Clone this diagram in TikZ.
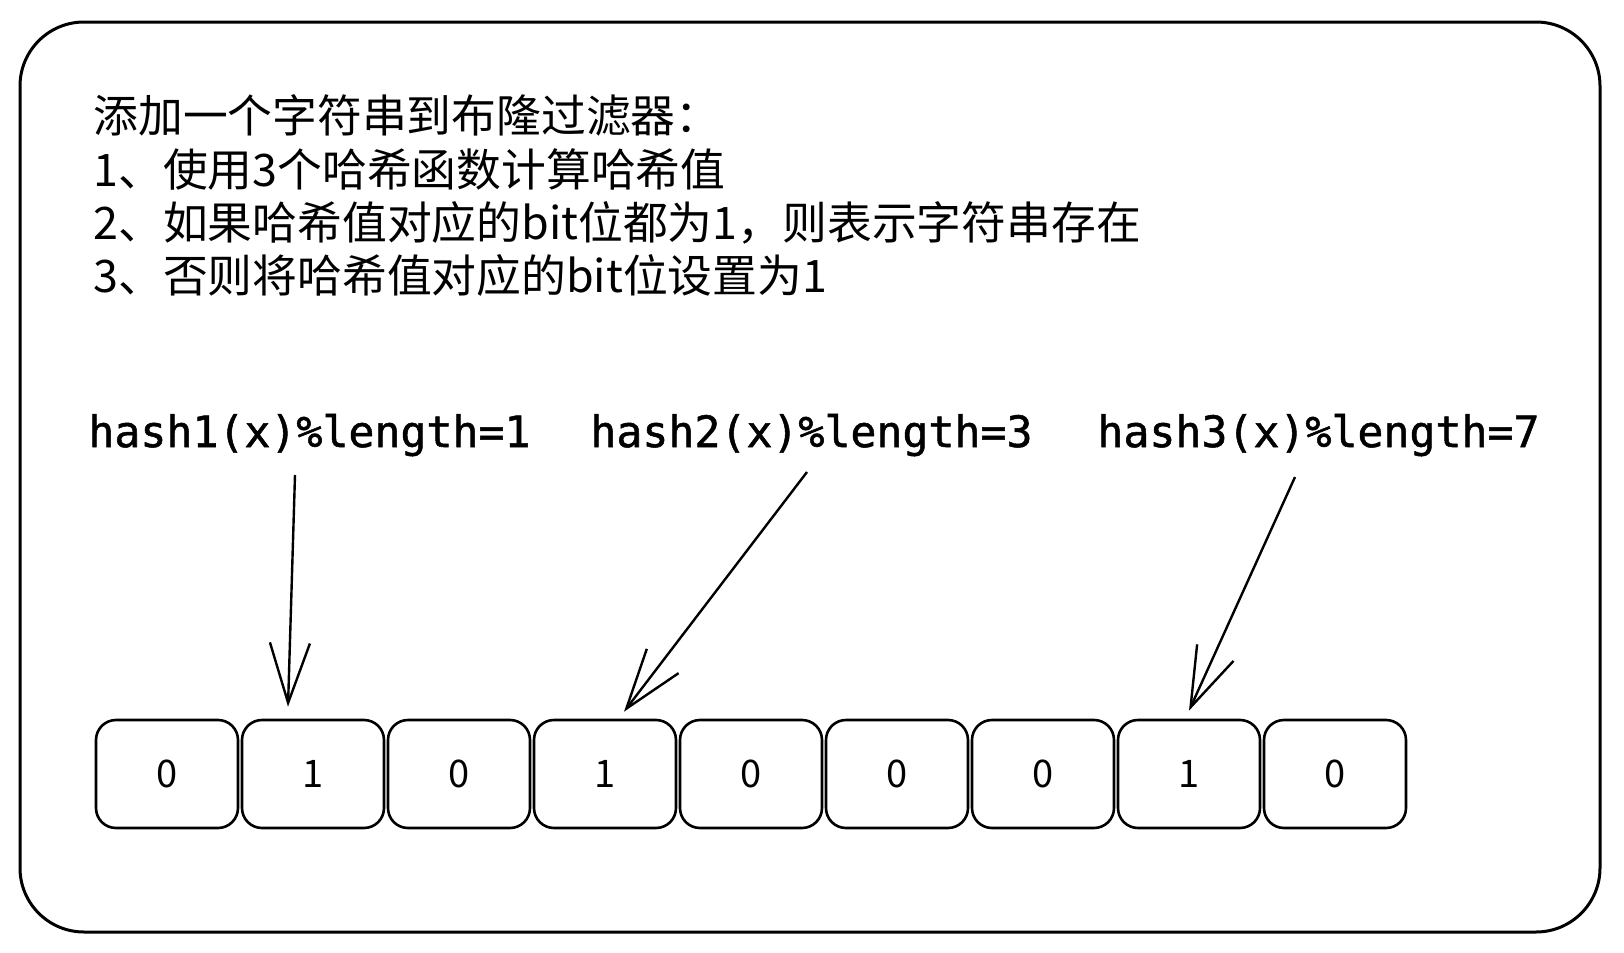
\documentclass[tikz,border=0pt]{standalone}
\usepackage{fontspec}
\usepackage{tikz}
\usetikzlibrary{arrows.meta}
\setmainfont{Noto Sans CJK SC}
\newfontfamily\hashfont[FakeBold=1.2]{DejaVu Sans Mono}

\tikzset{
  bitcell/.style = {draw, line width=1.3pt, rounded corners=10pt, minimum width=71pt,
    minimum height=54pt, inner sep=0pt, font=\fontsize{19}{19}\selectfont},
  stepline/.style = {anchor=base west, inner sep=0pt, font=\fontsize{22.4}{26}\selectfont},
  hashlabel/.style = {anchor=base west, inner sep=0pt, font=\hashfont\fontsize{21.6}{26}\selectfont},
  hasharrow/.style = {line width=1.2pt, -{Straight Barb[length=30pt, width=20pt, line width=1.2pt]}}
}

\begin{document}
\begin{tikzpicture}[x=0.5pt, y=-0.5pt]
\useasboundingbox (0,0) rectangle (1624,953);
\draw[line width=1.5pt, rounded corners=32pt] (20,22) rectangle (1600,932);

\node [stepline] (L1) at (93,132) {添加一个字符串到布隆过滤器：};
\node [stepline] (L2) at (93,186) {1、使用3个哈希函数计算哈希值};
\node [stepline] (L3) at (93,239) {2、如果哈希值对应的bit位都为1，则表示字符串存在};
\node [stepline] (L4) at (93,292) {3、否则将哈希值对应的bit位设置为1};

\node [hashlabel] (H1) at (88,447) {hash1(x)\%length=1};
\node [hashlabel] (H2) at (590,447) {hash2(x)\%length=3};
\node [hashlabel] (H3) at (1097,447) {hash3(x)\%length=7};

\foreach \b [count=\i from 0] in {0,1,0,1,0,0,0,1,0}
  \node [bitcell] (c\i) at (167+146*\i, 774) {\b};

\coordinate (s1) at (295,475);
\coordinate (s2) at (807,472);
\coordinate (s3) at (1295,477);
\draw[hasharrow] (s1) -- ([shift={(-25,-12)}]c1.north);
\draw[hasharrow] (s2) -- ([shift={(19,-7)}]c3.north);
\draw[hasharrow] (s3) -- ([shift={(0,-8)}]c7.north);
\end{tikzpicture}
\end{document}
